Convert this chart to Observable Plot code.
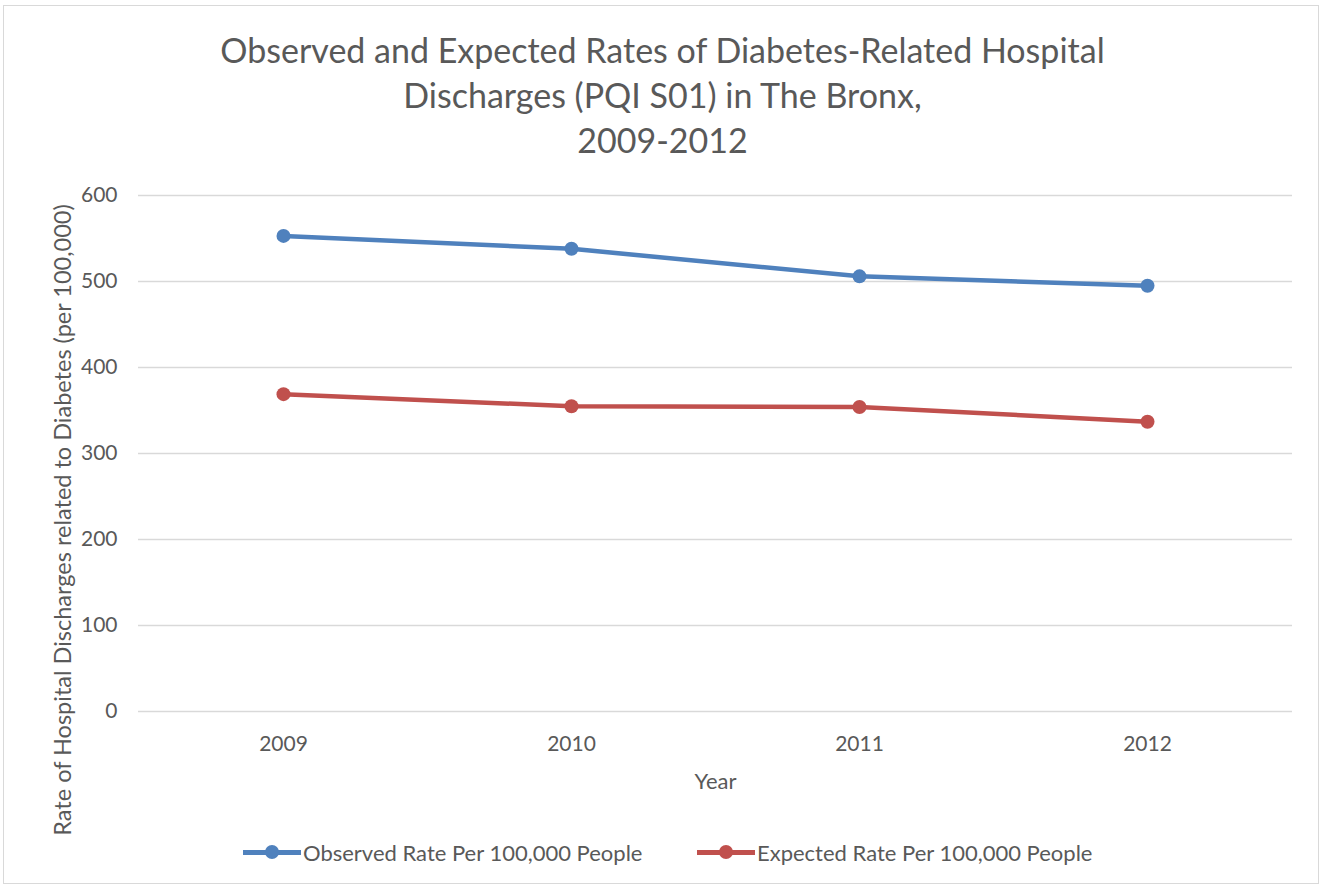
<!DOCTYPE html>
<html>
<head>
<meta charset="utf-8">
<script src="https://cdn.jsdelivr.net/npm/d3@7"></script>
<script src="https://cdn.jsdelivr.net/npm/@observablehq/plot@0.6"></script>
<style>
  html, body { margin: 0; padding: 0; background: #fff; }
  #wrap { position: relative; width: 1325px; height: 888px; font-family: Lato, "Open Sans", sans-serif; color: #595959; }
  #frame { position: absolute; left: 3px; top: 5px; width: 1316px; height: 879px; border: 1px solid #D9D9D9; box-sizing: border-box; }
  #title { position: absolute; left: 0; width: 1325px; top: 27px; text-align: center; font-size: 34px; line-height: 45px; color: #595959; }
  #chart { position: absolute; left: 0; top: 160px; }
  #ylabel { position: absolute; left: 62px; top: 520px; transform: translate(-50%, -50%) rotate(-90deg); white-space: nowrap; font-size: 23.5px; color: #595959; }
  #legend { position: absolute; top: 838px; left: 0; width: 1325px; font-size: 22px; color: #595959; }
  .item { position: absolute; display: flex; align-items: center; height: 28px; }
  .sw { position: relative; width: 58px; height: 28px; }
  .sw .ln { position: absolute; left: 0; right: 0; top: 12px; height: 5px; }
  .sw .dt { position: absolute; left: 22px; top: 7px; width: 14px; height: 14px; border-radius: 50%; }
</style>
</head>
<body>
<div id="wrap">
  <div id="frame"></div>
  <div id="title">Observed and Expected Rates of Diabetes-Related Hospital<br>Discharges (PQI S01) in The Bronx,<br>2009-2012</div>
  <div id="chart"></div>
  <div id="ylabel">Rate of Hospital Discharges related to Diabetes (per 100,000)</div>
  <div id="legend"></div>
</div>
<script>
const years = ["2009", "2010", "2011", "2012"];
const observed = [553, 538, 506, 495];
const expected = [369, 355, 354, 337];
const seriesNames = ["Observed Rate Per 100,000 People", "Expected Rate Per 100,000 People"];
const seriesColors = ["#4F81BD", "#C0504D"];
const yTicks = [0, 100, 200, 300, 400, 500, 600];

const rows = [];
years.forEach((yr, i) => {
  rows.push({year: yr, value: observed[i], series: seriesNames[0]});
  rows.push({year: yr, value: expected[i], series: seriesNames[1]});
});

const chart = Plot.plot({
  width: 1325,
  height: 641,
  marginTop: 35,
  marginBottom: 90,
  marginLeft: 138,
  marginRight: 33,
  style: {fontFamily: "Lato, 'Open Sans', sans-serif", fontSize: "21px", color: "#595959", background: "transparent"},
  x: {type: "point", domain: years, padding: 0.5, label: null},
  y: {domain: [0, 600], ticks: yTicks, label: null},
  color: {domain: seriesNames, range: seriesColors},
  marks: [
    Plot.ruleY(yTicks, {stroke: "#D9D9D9", strokeWidth: 1.3}),
    Plot.axisY({ticks: yTicks, tickSize: 0, tickPadding: 21, label: null, fill: "#595959", fontSize: 21}),
    Plot.axisX({tickSize: 0, tickPadding: 25, label: null, fill: "#595959", fontSize: 21}),
    Plot.text(["Year"], {frameAnchor: "bottom", dy: 70, fontSize: 22, fill: "#595959", lineAnchor: "middle"}),
    Plot.line(rows, {x: "year", y: "value", z: "series", stroke: "series", strokeWidth: 4.5, curve: "linear"}),
    Plot.dot(rows, {x: "year", y: "value", fill: "series", r: 7})
  ]
});
document.getElementById("chart").appendChild(chart);

const legend = document.getElementById("legend");
const lx = [243, 697];
seriesNames.forEach((n, i) => {
  const it = document.createElement("div");
  it.className = "item";
  it.style.left = lx[i] + "px";
  it.innerHTML = `<div class="sw"><div class="ln" style="background:${seriesColors[i]}"></div><div class="dt" style="background:${seriesColors[i]}"></div></div><span style="margin-left:2px">${n}</span>`;
  legend.appendChild(it);
});
</script>
</body>
</html>
